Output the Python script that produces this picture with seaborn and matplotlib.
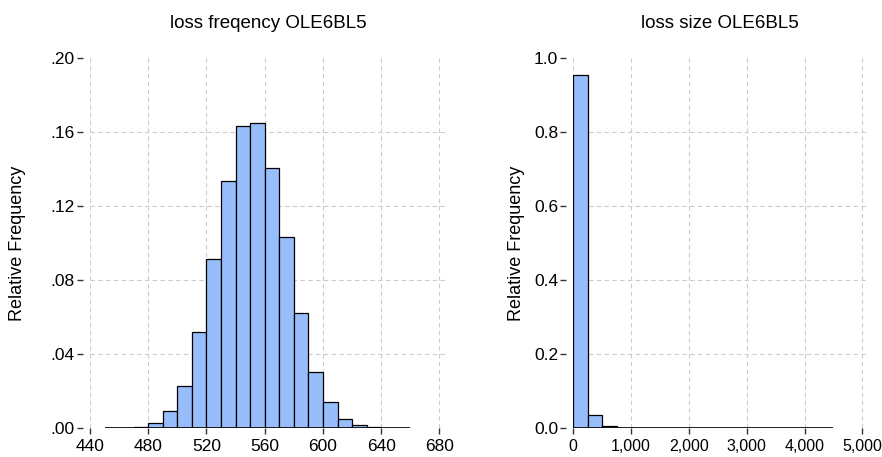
import numpy as np
import pandas as pd
import matplotlib
matplotlib.use("Agg")
import matplotlib.pyplot as plt
import seaborn as sns

# ---- data ----
freq_edges = [450, 460, 470, 480, 490, 500, 510, 520, 530, 540, 550,
              560, 570, 580, 590, 600, 610, 620, 630, 640, 650, 660]
freq_rel = [0.0, 0.0, 0.0007, 0.0027, 0.0095, 0.0227, 0.0522, 0.0913,
            0.1338, 0.1632, 0.1649, 0.1405, 0.1034, 0.0625, 0.0306,
            0.0142, 0.0049, 0.0016, 0.0005, 0.0002, 0.0]

size_edges = [0, 250, 500, 750, 1000, 1250, 1500, 1750, 2000, 2250,
              2500, 2750, 3000, 3250, 3500, 3750, 4000, 4250, 4500]
size_rel = [0.955, 0.035, 0.0075, 0.0015, 0.0006, 0.0003, 0.0002, 0.0001,
            0.0001, 0.0001, 0.0001, 0.0001, 0.0, 0.0, 0.0, 0.0, 0.0, 0.0]

freq_xticks = [440, 480, 520, 560, 600, 640, 680]
freq_yticks = [0.0, 0.04, 0.08, 0.12, 0.16, 0.20]
freq_yticklabels = [".00", ".04", ".08", ".12", ".16", ".20"]
size_xticks = [0, 1000, 2000, 3000, 4000, 5000]
size_xticklabels = ["0", "1,000", "2,000", "3,000", "4,000", "5,000"]
size_yticks = [0.0, 0.2, 0.4, 0.6, 0.8, 1.0]
size_yticklabels = ["0.0", "0.2", "0.4", "0.6", "0.8", "1.0"]

titles = ["loss freqency OLE6BL5", "loss size OLE6BL5"]
ylabel = "Relative Frequency"

# ---- style ----
sns.set_style("white")
plt.rcParams["font.family"] = ["Liberation Sans", "DejaVu Sans"]
plt.rcParams["text.color"] = "black"
plt.rcParams["axes.labelcolor"] = "black"

BAR = "#97BEFA"
GRID = "#CCCCCC"

W, H = 882, 457
fig = plt.figure(figsize=(W / 100, H / 100), dpi=100)

def px_axes(x0, x1, ytop, ybot):
    return fig.add_axes([x0 / W, 1 - ybot / H, (x1 - x0) / W, (ybot - ytop) / H])

ax1 = px_axes(90, 446.7, 58.3, 428.3)
ax2 = px_axes(573.3, 867, 58.3, 428.3)

def centers(edges):
    e = np.asarray(edges, float)
    return (e[:-1] + e[1:]) / 2

df1 = pd.DataFrame({"x": centers(freq_edges), "w": freq_rel})
df2 = pd.DataFrame({"x": centers(size_edges), "w": size_rel})

for ax, df, edges in [(ax1, df1, freq_edges), (ax2, df2, size_edges)]:
    sns.histplot(data=df, x="x", weights="w", bins=edges, stat="count",
                 color=BAR, edgecolor="black", linewidth=0.9, alpha=1.0,
                 ax=ax, zorder=3)
    # baseline under the full bin range (zero-height bins included)
    ax.hlines(0, edges[0], edges[-1], color="black", lw=1.2, zorder=4)

def style(ax, xlim, xticks, xlabels, ylim, yticks, ylabels, xfs, lab_x):
    for s in ax.spines.values():
        s.set_visible(False)
    ax.spines["left"].set_position(("outward", 5))
    ax.set_xlim(*xlim)
    ax.set_ylim(*ylim)
    ax.set_xticks(xticks)
    ax.set_xticklabels(xlabels)
    ax.set_yticks(yticks)
    ax.set_yticklabels(ylabels)
    ax.tick_params(axis="both", direction="out", length=4.5, width=1.0,
                   color="#333333", labelcolor="black")
    ax.tick_params(axis="x", pad=3, labelsize=xfs)
    ax.tick_params(axis="y", pad=1.5, labelsize=12.5)
    ax.tick_params(left=True, bottom=True)
    for y in yticks[1:-1]:
        ax.axhline(y, color=GRID, lw=0.8, ls=(0, (4, 3)), zorder=0)
    for x in xticks:
        ax.axvline(x, color=GRID, lw=0.8, ls=(0, (4, 3)), zorder=0)
    ax.set_xlabel("")
    ax.set_ylabel(ylabel, fontsize=13, color="black")
    ax.yaxis.set_label_coords(lab_x, 0.5)

style(ax1, (440, 685), freq_xticks, [str(v) for v in freq_xticks],
      (0, 0.20), freq_yticks, freq_yticklabels, 12.5, -0.18)
style(ax2, (0, 5080), size_xticks, size_xticklabels,
      (0, 1.0), size_yticks, size_yticklabels, 11.5, -0.164)

ax1.set_title(titles[0], fontsize=13.5, pad=22, color="black")
ax2.set_title(titles[1], fontsize=13.5, pad=22, color="black")

fig.savefig("out.png", dpi=100, facecolor="white")
